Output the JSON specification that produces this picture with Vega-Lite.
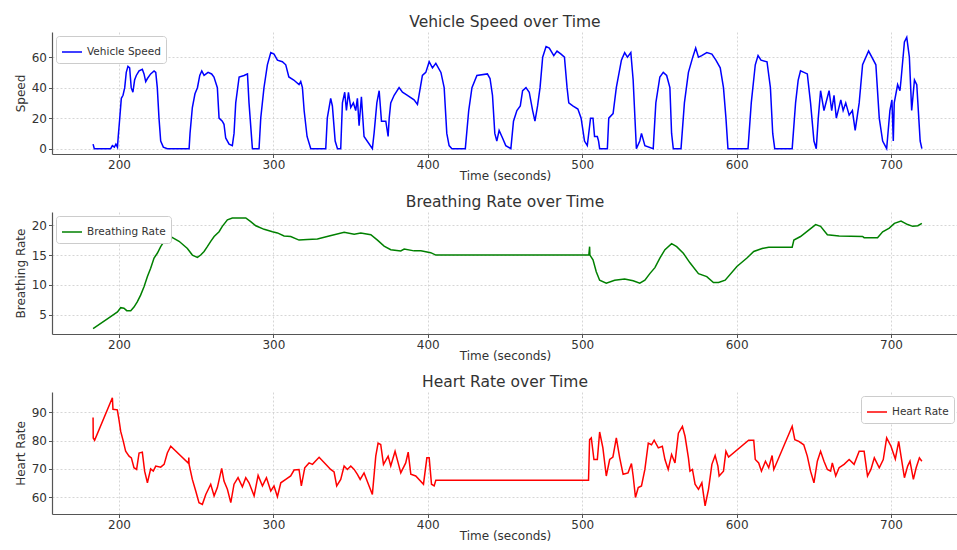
{
  "$schema": "https://vega.github.io/schema/vega-lite/v6.json",
  "padding": {"left": 14, "top": 14, "right": 0, "bottom": 0},
  "background": "white",
  "spacing": 12,
  "config": {
    "font": "DejaVu Sans",
    "view": {"stroke": null},
    "title": {"fontSize": 15.5, "fontWeight": "normal", "color": "#333333", "offset": 2},
    "axis": {
      "labelFontSize": 12, "titleFontSize": 12, "titleFontWeight": "normal",
      "labelColor": "#333333", "titleColor": "#333333",
      "domainColor": "#555555", "domainWidth": 1.2, "tickColor": "#555555", "tickSize": 3.5,
      "gridColor": "#cccccc", "gridDash": [2, 2], "gridWidth": 0.8
    },
    "axisX": {"titlePadding": 0},
    "legend": {
      "strokeColor": "#cccccc", "fillColor": "white", "padding": 5, "cornerRadius": 3,
      "labelFontSize": 10.5, "labelColor": "#333333", "symbolType": "stroke",
      "symbolSize": 400, "symbolStrokeWidth": 1.5, "offset": 4, "title": null
    }
  },
  "datasets": {
    "speed": [
      {"t":183.2,"v":3},{"t":184,"v":0},{"t":194.6,"v":0},{"t":195.7,"v":2},{"t":197,"v":1},{"t":198,"v":3},{"t":199,"v":1},{"t":199.5,"v":8},{"t":200.4,"v":19},{"t":201.5,"v":33},{"t":202.6,"v":35},{"t":203.7,"v":40},{"t":204.7,"v":50},{"t":205.8,"v":54},{"t":206.9,"v":53},{"t":207.9,"v":40},{"t":209,"v":37},{"t":210.1,"v":45},{"t":211.2,"v":48},{"t":213,"v":51},{"t":215.1,"v":52},{"t":216.2,"v":49},{"t":217.3,"v":44},{"t":218.4,"v":46},{"t":220.5,"v":49},{"t":222.7,"v":51},{"t":223.8,"v":50},{"t":224.8,"v":40},{"t":225.9,"v":20},{"t":227,"v":5},{"t":228.7,"v":1},{"t":231.3,"v":0},{"t":245.4,"v":0},{"t":246,"v":10},{"t":247.5,"v":27},{"t":249.2,"v":36},{"t":250.8,"v":40},{"t":252.3,"v":48},{"t":253.6,"v":51},{"t":255.1,"v":48},{"t":257.7,"v":50},{"t":260,"v":49},{"t":261.5,"v":47},{"t":263.7,"v":40},{"t":264.8,"v":20},{"t":266.9,"v":18},{"t":268,"v":16},{"t":269.1,"v":7},{"t":271.3,"v":3},{"t":273.4,"v":2},{"t":274.5,"v":10},{"t":275.6,"v":30},{"t":277.8,"v":47},{"t":281,"v":48},{"t":283.2,"v":49},{"t":284.2,"v":30},{"t":286.4,"v":0},{"t":290.7,"v":0},{"t":291.8,"v":20},{"t":293.9,"v":40},{"t":296.1,"v":55},{"t":298.3,"v":63},{"t":300.4,"v":62},{"t":302.6,"v":58},{"t":305.8,"v":57},{"t":308,"v":55},{"t":310,"v":47},{"t":313.2,"v":45},{"t":316.6,"v":42},{"t":317.7,"v":44},{"t":318.8,"v":40},{"t":319.9,"v":25},{"t":321.8,"v":8},{"t":324.2,"v":0},{"t":333.9,"v":0},{"t":334.9,"v":20},{"t":337.1,"v":33},{"t":338.2,"v":28},{"t":340,"v":5},{"t":341.5,"v":0},{"t":343.6,"v":0},{"t":344.7,"v":30},{"t":346.2,"v":37},{"t":347.3,"v":25},{"t":348.6,"v":37},{"t":350.1,"v":27},{"t":351.8,"v":30},{"t":353.3,"v":25},{"t":354.4,"v":33},{"t":355.5,"v":15},{"t":357,"v":34},{"t":358.7,"v":8},{"t":364.1,"v":0},{"t":365.2,"v":10},{"t":367,"v":30},{"t":368.5,"v":38},{"t":370,"v":18},{"t":372.8,"v":18},{"t":374.3,"v":8},{"t":375,"v":20},{"t":376,"v":30},{"t":378.2,"v":35},{"t":381.4,"v":40},{"t":383.6,"v":37},{"t":386.8,"v":35},{"t":391.1,"v":32},{"t":393.3,"v":29},{"t":394.3,"v":35},{"t":396.5,"v":48},{"t":398.7,"v":50},{"t":400.9,"v":57},{"t":403,"v":53},{"t":405.2,"v":56},{"t":408.5,"v":50},{"t":410.6,"v":40},{"t":412.3,"v":10},{"t":413.8,"v":2},{"t":415.6,"v":0},{"t":424.3,"v":0},{"t":426.5,"v":25},{"t":428.6,"v":40},{"t":431.8,"v":48},{"t":438.6,"v":49},{"t":440.3,"v":46},{"t":441.9,"v":35},{"t":443.4,"v":10},{"t":444.7,"v":5},{"t":446.2,"v":12},{"t":448.4,"v":7},{"t":450.5,"v":2},{"t":453.8,"v":0},{"t":455.5,"v":18},{"t":457.7,"v":25},{"t":459.9,"v":28},{"t":461.4,"v":38},{"t":463.6,"v":40},{"t":465.7,"v":37},{"t":467.9,"v":25},{"t":469.4,"v":18},{"t":471.1,"v":28},{"t":472.7,"v":40},{"t":474.4,"v":60},{"t":476.6,"v":67},{"t":478.7,"v":66},{"t":481.6,"v":61},{"t":483.7,"v":64},{"t":486.3,"v":62},{"t":488.5,"v":60},{"t":490.2,"v":40},{"t":491.3,"v":30},{"t":493.9,"v":28},{"t":497.2,"v":26},{"t":499.3,"v":20},{"t":501.5,"v":5},{"t":503.3,"v":2},{"t":505.4,"v":20},{"t":507,"v":20},{"t":508,"v":8},{"t":509.8,"v":8},{"t":510.6,"v":5},{"t":511.3,"v":0},{"t":516.3,"v":0},{"t":517.2,"v":20},{"t":520,"v":23},{"t":522.1,"v":40},{"t":525.4,"v":58},{"t":527.5,"v":63},{"t":529.3,"v":60},{"t":531.5,"v":63},{"t":533,"v":45},{"t":535.1,"v":0},{"t":537.3,"v":5},{"t":538.4,"v":10},{"t":540.6,"v":2},{"t":546,"v":0},{"t":547.7,"v":30},{"t":550.3,"v":47},{"t":552.5,"v":50},{"t":554.7,"v":48},{"t":556.8,"v":40},{"t":557.9,"v":10},{"t":559,"v":0},{"t":564,"v":0},{"t":566.2,"v":30},{"t":568.8,"v":50},{"t":571.6,"v":60},{"t":573.5,"v":66},{"t":575.3,"v":60},{"t":577.4,"v":61},{"t":580.7,"v":63},{"t":584,"v":62},{"t":586.6,"v":58},{"t":589.4,"v":53},{"t":591.5,"v":40},{"t":593.1,"v":20},{"t":594.4,"v":0},{"t":607.4,"v":0},{"t":609.5,"v":30},{"t":612.1,"v":55},{"t":613.9,"v":61},{"t":615.8,"v":58},{"t":619.7,"v":57},{"t":621.9,"v":40},{"t":623.4,"v":10},{"t":624.7,"v":0},{"t":636,"v":0},{"t":638.2,"v":30},{"t":639.9,"v":45},{"t":641.4,"v":51},{"t":645.8,"v":49},{"t":647.9,"v":30},{"t":650.1,"v":5},{"t":651.6,"v":0},{"t":652.9,"v":20},{"t":654.4,"v":38},{"t":656.6,"v":25},{"t":659.9,"v":38},{"t":661.6,"v":25},{"t":663.1,"v":35},{"t":664.6,"v":20},{"t":667.5,"v":32},{"t":669,"v":25},{"t":670.7,"v":30},{"t":672.9,"v":22},{"t":675,"v":25},{"t":676.8,"v":12},{"t":679.4,"v":30},{"t":681.6,"v":55},{"t":685.5,"v":64},{"t":687.6,"v":60},{"t":690.2,"v":55},{"t":692.4,"v":20},{"t":694.6,"v":5},{"t":697.2,"v":0},{"t":699.3,"v":25},{"t":700.6,"v":32},{"t":701.5,"v":5},{"t":702.1,"v":30},{"t":704.3,"v":42},{"t":705.8,"v":38},{"t":706.5,"v":45},{"t":708.7,"v":70},{"t":710.2,"v":73},{"t":711.9,"v":60},{"t":713.4,"v":25},{"t":715.2,"v":45},{"t":716.7,"v":42},{"t":718,"v":20},{"t":718.9,"v":5},{"t":720,"v":0}
    ],
    "breath": [
      {"t":183.2,"v":2.7},{"t":194.6,"v":4.7},{"t":199,"v":5.5},{"t":201.1,"v":6.2},{"t":203.2,"v":6.1},{"t":205,"v":5.7},{"t":207.6,"v":5.7},{"t":209.7,"v":6.3},{"t":211.9,"v":7.2},{"t":214,"v":8.3},{"t":216.2,"v":9.7},{"t":218.4,"v":11.4},{"t":220.5,"v":12.8},{"t":222.7,"v":14.5},{"t":224.8,"v":15.3},{"t":227,"v":16.4},{"t":229.2,"v":17.3},{"t":233.5,"v":18.1},{"t":238.9,"v":17.3},{"t":244.3,"v":16.1},{"t":247.5,"v":15.0},{"t":250.8,"v":14.6},{"t":252.9,"v":15.0},{"t":255.1,"v":15.6},{"t":257.2,"v":16.4},{"t":259.4,"v":17.3},{"t":261.6,"v":18.1},{"t":264.8,"v":18.9},{"t":266.9,"v":19.8},{"t":270.2,"v":20.9},{"t":273.4,"v":21.2},{"t":282.1,"v":21.2},{"t":285.3,"v":20.6},{"t":288.6,"v":19.9},{"t":294,"v":19.3},{"t":299.4,"v":18.9},{"t":302.6,"v":18.7},{"t":306.9,"v":18.2},{"t":311.2,"v":18.1},{"t":316.6,"v":17.5},{"t":322,"v":17.6},{"t":328.5,"v":17.7},{"t":336.1,"v":18.2},{"t":345.8,"v":18.8},{"t":352.3,"v":18.5},{"t":356.6,"v":18.7},{"t":363.1,"v":18.4},{"t":367.4,"v":17.5},{"t":371.7,"v":16.5},{"t":376,"v":15.9},{"t":382.5,"v":15.7},{"t":384.7,"v":16.0},{"t":391.1,"v":15.7},{"t":395.5,"v":15.7},{"t":401.9,"v":15.4},{"t":405.2,"v":15.0},{"t":504.3,"v":15.0},{"t":504.8,"v":16.4},{"t":505,"v":15.0},{"t":507,"v":14.2},{"t":509.1,"v":12.2},{"t":511.3,"v":10.8},{"t":515.6,"v":10.3},{"t":521,"v":10.8},{"t":527.5,"v":11.0},{"t":533,"v":10.7},{"t":537.3,"v":10.3},{"t":540.6,"v":10.8},{"t":543.8,"v":11.9},{"t":547.1,"v":12.9},{"t":550.3,"v":14.5},{"t":553.6,"v":15.9},{"t":557.9,"v":16.9},{"t":561.2,"v":16.4},{"t":565.5,"v":15.3},{"t":569.8,"v":13.7},{"t":575.3,"v":11.9},{"t":580.7,"v":11.4},{"t":585,"v":10.4},{"t":588.3,"v":10.4},{"t":592.6,"v":10.8},{"t":600.2,"v":13.1},{"t":606.7,"v":14.5},{"t":611.1,"v":15.6},{"t":616.5,"v":16.1},{"t":620.8,"v":16.3},{"t":636,"v":16.3},{"t":637.1,"v":17.5},{"t":641.4,"v":18.1},{"t":646.9,"v":19.2},{"t":651.2,"v":20.1},{"t":654.4,"v":19.8},{"t":658.8,"v":18.4},{"t":666.4,"v":18.2},{"t":681.6,"v":18.1},{"t":682.6,"v":17.9},{"t":691.3,"v":17.9},{"t":694.6,"v":18.9},{"t":698.9,"v":19.5},{"t":702.2,"v":20.3},{"t":706.5,"v":20.7},{"t":710.8,"v":20.1},{"t":714.1,"v":19.8},{"t":717.4,"v":19.9},{"t":720,"v":20.3}
    ],
    "heart": [
      {"t":183.2,"v":88.1},{"t":183.3,"v":80.9},{"t":184.2,"v":80.1},{"t":195.7,"v":95.1},{"t":196.1,"v":91},{"t":198.9,"v":90.8},{"t":200,"v":87.3},{"t":201.1,"v":83.2},{"t":202.8,"v":79.7},{"t":204.3,"v":76.2},{"t":206.5,"v":74.5},{"t":208,"v":73.9},{"t":209.7,"v":70.4},{"t":211.4,"v":69.8},{"t":213,"v":75.6},{"t":215.1,"v":75.9},{"t":216.6,"v":69.2},{"t":218.4,"v":65.1},{"t":220.5,"v":70.0},{"t":222.2,"v":69.2},{"t":223.8,"v":71},{"t":227,"v":70.6},{"t":229.2,"v":71.6},{"t":231.3,"v":75.6},{"t":233.5,"v":78.0},{"t":245,"v":72},{"t":245.2,"v":74},{"t":245.4,"v":71.6},{"t":247.5,"v":66.3},{"t":249.7,"v":62.2},{"t":251.8,"v":58.1},{"t":254,"v":57.5},{"t":256.2,"v":61},{"t":259.4,"v":64.6},{"t":261.6,"v":60.5},{"t":263.7,"v":63.4},{"t":266.5,"v":70.2},{"t":268,"v":65.7},{"t":270.2,"v":62.8},{"t":272.4,"v":58.1},{"t":274.5,"v":64.6},{"t":277.1,"v":66.9},{"t":279.9,"v":63.7},{"t":282.1,"v":66.9},{"t":284.2,"v":65.1},{"t":287.5,"v":60.5},{"t":290.1,"v":67.7},{"t":292.9,"v":64},{"t":295.5,"v":66.9},{"t":298.3,"v":62.2},{"t":300.4,"v":64},{"t":302.6,"v":60.2},{"t":304.8,"v":65.1},{"t":308,"v":66.3},{"t":311.2,"v":67.5},{"t":313.4,"v":69.6},{"t":316.6,"v":69.8},{"t":318.1,"v":64},{"t":320.3,"v":70.4},{"t":323.1,"v":72.1},{"t":325.3,"v":71.6},{"t":329.6,"v":74.1},{"t":333.9,"v":71.6},{"t":337.1,"v":69.8},{"t":339.3,"v":68.9},{"t":341,"v":64},{"t":343.6,"v":66.3},{"t":345.8,"v":71},{"t":347.9,"v":69.8},{"t":350.1,"v":71},{"t":352.3,"v":69.8},{"t":354.4,"v":68.1},{"t":356.2,"v":66.3},{"t":358.7,"v":68.6},{"t":364.1,"v":61},{"t":366.3,"v":74.5},{"t":367.8,"v":79.1},{"t":369.5,"v":78.6},{"t":371.3,"v":71.6},{"t":374.3,"v":74.5},{"t":376,"v":71},{"t":378.8,"v":76.2},{"t":380.8,"v":72.1},{"t":382.5,"v":68.6},{"t":385.7,"v":72.1},{"t":387.3,"v":75.9},{"t":389,"v":68.1},{"t":392.2,"v":67.5},{"t":397.2,"v":64.6},{"t":399.4,"v":73.9},{"t":400.9,"v":73.9},{"t":402.4,"v":64.6},{"t":404.1,"v":64},{"t":405.2,"v":66},{"t":504.1,"v":66},{"t":504.8,"v":80.3},{"t":505.9,"v":80.9},{"t":507.6,"v":73.3},{"t":509.8,"v":73.3},{"t":511.3,"v":83},{"t":513.4,"v":77.4},{"t":515.6,"v":67.5},{"t":517.8,"v":73.3},{"t":519.9,"v":74.2},{"t":522.1,"v":80.9},{"t":524.3,"v":73.9},{"t":526.5,"v":68.1},{"t":529.7,"v":68.6},{"t":531.9,"v":71.9},{"t":533,"v":67.5},{"t":534.5,"v":59.9},{"t":536.3,"v":63.4},{"t":538.4,"v":64},{"t":540.6,"v":69.8},{"t":542.8,"v":79.1},{"t":544.9,"v":78.5},{"t":546.6,"v":80.1},{"t":549.3,"v":77.4},{"t":551.9,"v":78.0},{"t":553.6,"v":73.3},{"t":555.7,"v":69.8},{"t":557.9,"v":75.1},{"t":560.1,"v":72.1},{"t":562.3,"v":82.6},{"t":564.9,"v":85.0},{"t":566.6,"v":81.5},{"t":568.8,"v":73.9},{"t":569.8,"v":69.2},{"t":571.4,"v":69.8},{"t":573.1,"v":64.6},{"t":575.3,"v":62.8},{"t":577.5,"v":65.1},{"t":579.6,"v":57},{"t":581.8,"v":62.8},{"t":584,"v":71.6},{"t":586.1,"v":74.7},{"t":587.9,"v":71},{"t":588.7,"v":67.5},{"t":591.5,"v":69.2},{"t":593.1,"v":76.2},{"t":594.8,"v":74.2},{"t":607.8,"v":80.1},{"t":611.1,"v":80.1},{"t":612.1,"v":73.3},{"t":614.3,"v":72.1},{"t":616.1,"v":69.2},{"t":618.7,"v":72.7},{"t":620.8,"v":70.4},{"t":623,"v":74.7},{"t":624.1,"v":69.8},{"t":636,"v":85.0},{"t":637.7,"v":80.3},{"t":640.3,"v":79.7},{"t":643.5,"v":78.5},{"t":645.8,"v":74.5},{"t":647.9,"v":69.2},{"t":650.1,"v":65.1},{"t":652.3,"v":72.7},{"t":654.4,"v":76.2},{"t":656.6,"v":72.7},{"t":658.8,"v":69.8},{"t":660.9,"v":69.2},{"t":662,"v":72.1},{"t":664.2,"v":67.5},{"t":666.4,"v":70.4},{"t":669.6,"v":71.6},{"t":672.9,"v":73.3},{"t":676.1,"v":71.6},{"t":679.4,"v":76.2},{"t":682.6,"v":76.2},{"t":684.8,"v":67.5},{"t":687,"v":69.8},{"t":689.2,"v":73.9},{"t":692.4,"v":70.4},{"t":695,"v":73.3},{"t":697.2,"v":80.9},{"t":700,"v":78.0},{"t":702.8,"v":73.5},{"t":705,"v":79.7},{"t":706.5,"v":74.5},{"t":708.7,"v":66.9},{"t":710.8,"v":71},{"t":712.3,"v":72.7},{"t":714.5,"v":66.3},{"t":716.3,"v":70.4},{"t":718.4,"v":73.9},{"t":720,"v":72.7}
    ]
  },
  "vconcat": [
    {
      "title": "Vehicle Speed over Time",
      "width": 906, "height": 122,
      "data": {"name": "speed"},
      "transform": [{"calculate": "'Vehicle Speed'", "as": "series"}],
      "mark": {"type": "line", "strokeWidth": 1.5, "clip": true},
      "encoding": {
        "x": {"field": "t", "type": "quantitative", "scale": {"domain": [156.6, 743.4], "nice": false, "zero": false},
              "axis": {"title": "Time (seconds)", "values": [200, 300, 400, 500, 600, 700]}},
        "y": {"field": "v", "type": "quantitative", "scale": {"domain": [-3.5, 76.5], "nice": false, "zero": false},
              "axis": {"title": "Speed", "values": [0, 20, 40, 60]}},
        "color": {"field": "series", "type": "nominal", "scale": {"range": ["#0000ff"]}, "legend": {"orient": "top-left"}}
      }
    },
    {
      "title": "Breathing Rate over Time",
      "width": 906, "height": 122,
      "data": {"name": "breath"},
      "transform": [{"calculate": "'Breathing Rate'", "as": "series"}],
      "mark": {"type": "line", "strokeWidth": 1.5, "clip": true},
      "encoding": {
        "x": {"field": "t", "type": "quantitative", "scale": {"domain": [156.6, 743.4], "nice": false, "zero": false},
              "axis": {"title": "Time (seconds)", "values": [200, 300, 400, 500, 600, 700]}},
        "y": {"field": "v", "type": "quantitative", "scale": {"domain": [1.8, 22.2], "nice": false, "zero": false},
              "axis": {"title": "Breathing Rate", "values": [5, 10, 15, 20]}},
        "color": {"field": "series", "type": "nominal", "scale": {"range": ["#008000"]}, "legend": {"orient": "top-left"}}
      }
    },
    {
      "title": "Heart Rate over Time",
      "width": 906, "height": 122,
      "data": {"name": "heart"},
      "transform": [{"calculate": "'Heart Rate'", "as": "series"}],
      "mark": {"type": "line", "strokeWidth": 1.5, "clip": true},
      "encoding": {
        "x": {"field": "t", "type": "quantitative", "scale": {"domain": [156.6, 743.4], "nice": false, "zero": false},
              "axis": {"title": "Time (seconds)", "values": [200, 300, 400, 500, 600, 700]}},
        "y": {"field": "v", "type": "quantitative", "scale": {"domain": [54.1, 97.1], "nice": false, "zero": false},
              "axis": {"title": "Heart Rate", "values": [60, 70, 80, 90]}},
        "color": {"field": "series", "type": "nominal", "scale": {"range": ["#ff0000"]}, "legend": {"orient": "top-right"}}
      }
    }
  ],
  "resolve": {"scale": {"color": "independent"}, "legend": {"color": "independent"}}
}
